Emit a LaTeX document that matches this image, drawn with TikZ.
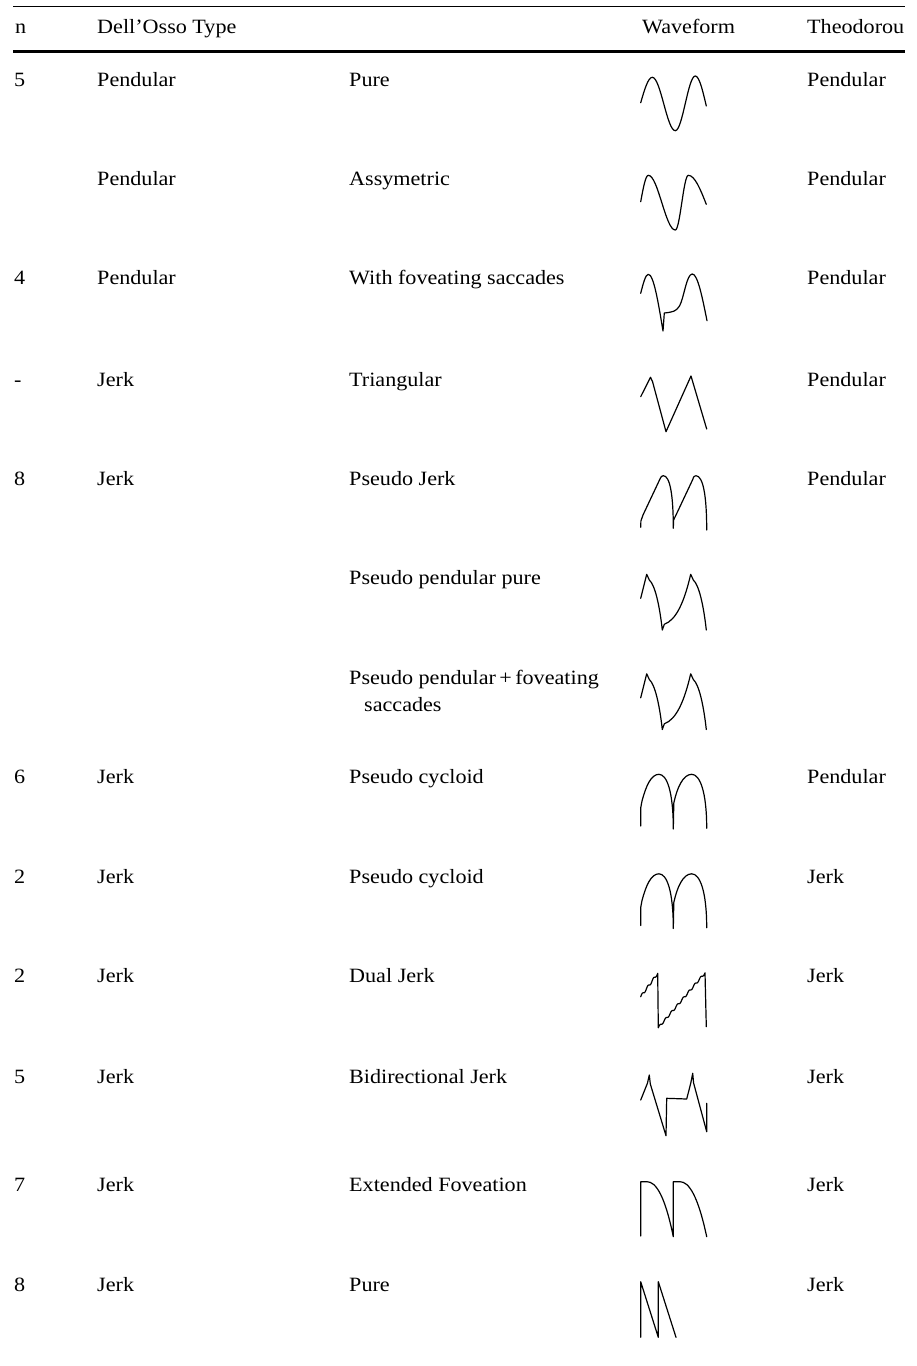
\documentclass[tikz,border=0pt]{standalone}
\usepackage{fontspec}
\setmainfont{Liberation Serif}[FakeStretch=1.09]
\begin{document}
\begin{tikzpicture}[x=1pt,y=-1pt,
  txt/.style={anchor=base west,inner sep=0pt,font=\fontsize{20.3}{24}\selectfont},
  wave/.style={line width=1.2pt,line join=round,line cap=round},
  thinrule/.style={line width=0.9pt},
  thickrule/.style={line width=2.3pt}]
\useasboundingbox (0,0) rectangle (917,1366);
% rules
\coordinate (t1) at (13,6.7);
\coordinate (t2) at (905,6.7);
\coordinate (m1) at (13,51.5);
\coordinate (m2) at (905,51.5);
\draw[thinrule] (t1) -- (t2);
\draw[thickrule] (m1) -- (m2);
% header
\node[txt] (hn) at (15,33.3) {n};
\node[txt] (hd) at (97,33.3) {Dell’Osso Type};
\node[txt] (hw) at (642,33.3) {Waveform};
\node[txt] (ht) at (807,33.3) {Theodorou};
% row 1
\node[txt] (r1n) at (14,86) {5};
\node[txt] (r1d) at (97,86) {Pendular};
\node[txt] (r1s) at (349,86) {Pure};
\node[txt] (r1t) at (807,86) {Pendular};
% row 2
\node[txt] (r2d) at (97,185) {Pendular};
\node[txt] (r2s) at (349,185) {Assymetric};
\node[txt] (r2t) at (807,185) {Pendular};
% row 3
\node[txt] (r3n) at (14,284) {4};
\node[txt] (r3d) at (97,284) {Pendular};
\node[txt] (r3s) at (349,284) {With foveating saccades};
\node[txt] (r3t) at (807,284) {Pendular};
% row 4
\node[txt] (r4n) at (14,386) {-};
\node[txt] (r4d) at (97,386) {Jerk};
\node[txt] (r4s) at (349,386) {Triangular};
\node[txt] (r4t) at (807,386) {Pendular};
% row 5
\node[txt] (r5n) at (14,485) {8};
\node[txt] (r5d) at (97,485) {Jerk};
\node[txt] (r5s) at (349,485) {Pseudo Jerk};
\node[txt] (r5t) at (807,485) {Pendular};
% row 6
\node[txt] (r6s) at (349,584) {Pseudo pendular pure};
% row 7
\node[txt] (r7s) at (349,684) {Pseudo pendular\,+\,foveating};
\node[txt] (r7s2) at (364,711) {saccades};
% row 8
\node[txt] (r8n) at (14,783) {6};
\node[txt] (r8d) at (97,783) {Jerk};
\node[txt] (r8s) at (349,783) {Pseudo cycloid};
\node[txt] (r8t) at (807,783) {Pendular};
% row 9
\node[txt] (r9n) at (14,883) {2};
\node[txt] (r9d) at (97,883) {Jerk};
\node[txt] (r9s) at (349,883) {Pseudo cycloid};
\node[txt] (r9t) at (807,883) {Jerk};
% row 10
\node[txt] (r10n) at (14,982) {2};
\node[txt] (r10d) at (97,982) {Jerk};
\node[txt] (r10s) at (349,982) {Dual Jerk};
\node[txt] (r10t) at (807,982) {Jerk};
% row 11
\node[txt] (r11n) at (14,1083) {5};
\node[txt] (r11d) at (97,1083) {Jerk};
\node[txt] (r11s) at (349,1083) {Bidirectional Jerk};
\node[txt] (r11t) at (807,1083) {Jerk};
% row 12
\node[txt] (r12n) at (14,1191) {7};
\node[txt] (r12d) at (97,1191) {Jerk};
\node[txt] (r12s) at (349,1191) {Extended Foveation};
\node[txt] (r12t) at (807,1191) {Jerk};
% row 13
\node[txt] (r13n) at (14,1291) {8};
\node[txt] (r13d) at (97,1291) {Jerk};
\node[txt] (r13s) at (349,1291) {Pure};
\node[txt] (r13t) at (807,1291) {Jerk};
% ---------------- waveforms ----------------
% 1 pure pendular
\draw[wave] (640.7,102.7) sin (652.3,77.3) cos (663.8,104) sin (675.3,130.7) cos (685.3,103.4) sin (695.3,76) cos (706.3,106);
% 2 asymmetric
\draw[wave] (640.7,201.7) sin (648.3,175.3) cos (661.8,202.6) sin (675.3,230) cos (681.8,202.6) sin (688.3,175.3) cos (706.3,204.3);
% 3 with foveating saccades
\draw[wave] (640.7,293.3) sin (648.3,274.3) cos (663,331) -- (664.3,313) .. controls (673,312) and (676,311.5) .. (679.5,306) .. controls (684,298) and (686.5,274) .. (692.3,274) cos (707,320.7);
% 4 triangular
\draw[wave] (640.7,396.7) -- (650.5,377.3) -- (652.5,381.5) -- (666,431.7) -- (691,376) -- (706.7,429);
% 5 pseudo jerk
\draw[wave] (640.7,527.3) -- (640.9,521) .. controls (641.2,518) .. (643,515) -- (659.5,480) .. controls (661.5,476) .. (663.3,475.7) .. controls (670,475.7) and (673.3,495) .. (673.3,528.3) -- (673.6,520) .. controls (674,517.5) .. (676,515) -- (692.5,480) .. controls (694,476) .. (696,475.7) .. controls (703,476) and (706.7,495) .. (706.7,530);
% 6 and 7 pseudo pendular
\foreach \dy in {0,99.5}{
\begin{scope}[shift={(0,\dy)}]
\draw[wave] (640.7,598.3) -- (646.7,574.3) -- (649.3,580) .. controls (655,585) and (659.5,605) .. (662.3,630) -- (664.3,624.3) .. controls (676,620) and (684,603) .. (690.7,574.3) -- (693.3,580) .. controls (699,585) and (703.5,605) .. (706.3,630);
\end{scope}}
% 8 and 9 pseudo cycloid
\foreach \dy in {0,99.5}{
\begin{scope}[shift={(0,\dy)}]
\draw[wave] (640.7,826) -- (640.7,808) -- (642,801) .. controls (646,786) and (651,774.3) .. (659,774.3) .. controls (667,774.3) and (673.3,792) .. (673.3,829) -- (673.8,803) .. controls (677,788) and (683,774.3) .. (691.7,774.3) .. controls (700,774.3) and (706.7,792) .. (706.7,828.3);
\end{scope}}
% 10 dual jerk
\draw[wave] plot[domain=0:17,samples=60] ({640.7+\x},{996.7-1.376*\x-1.25*sin(63.49*\x)}) -- (658.3,1027.7) -- plot[domain=0:46.7,samples=140] ({658.3+\x},{1027.7-1.176*\x-1.1*sin(61.64*\x)}) -- (706.3,1026.7);
% 11 bidirectional jerk
\draw[wave] (640.7,1100) -- (647.5,1083) -- (649.3,1075) -- (650.3,1084) -- (666,1135.7) -- (666.7,1098.3) -- (686.7,1099) -- (690.8,1083) -- (692.7,1073.3) -- (693.6,1083) -- (706.7,1131.7) -- (706.7,1103.3);
% 12 extended foveation
\draw[wave] (640.7,1236) -- (640.7,1181.7) -- (647,1181.7) .. controls (656,1181.7) and (665,1196) .. (673.3,1236.7) -- (673.3,1181.7) -- (680,1181.7) .. controls (689,1181.7) and (698,1196) .. (706.7,1236.7);
% 13 pure jerk
\draw[wave] (640.7,1337.3) -- (640.7,1281.7) -- (658.3,1337.3) -- (658.3,1281.7) -- (676,1337.3);
\end{tikzpicture}
\end{document}
